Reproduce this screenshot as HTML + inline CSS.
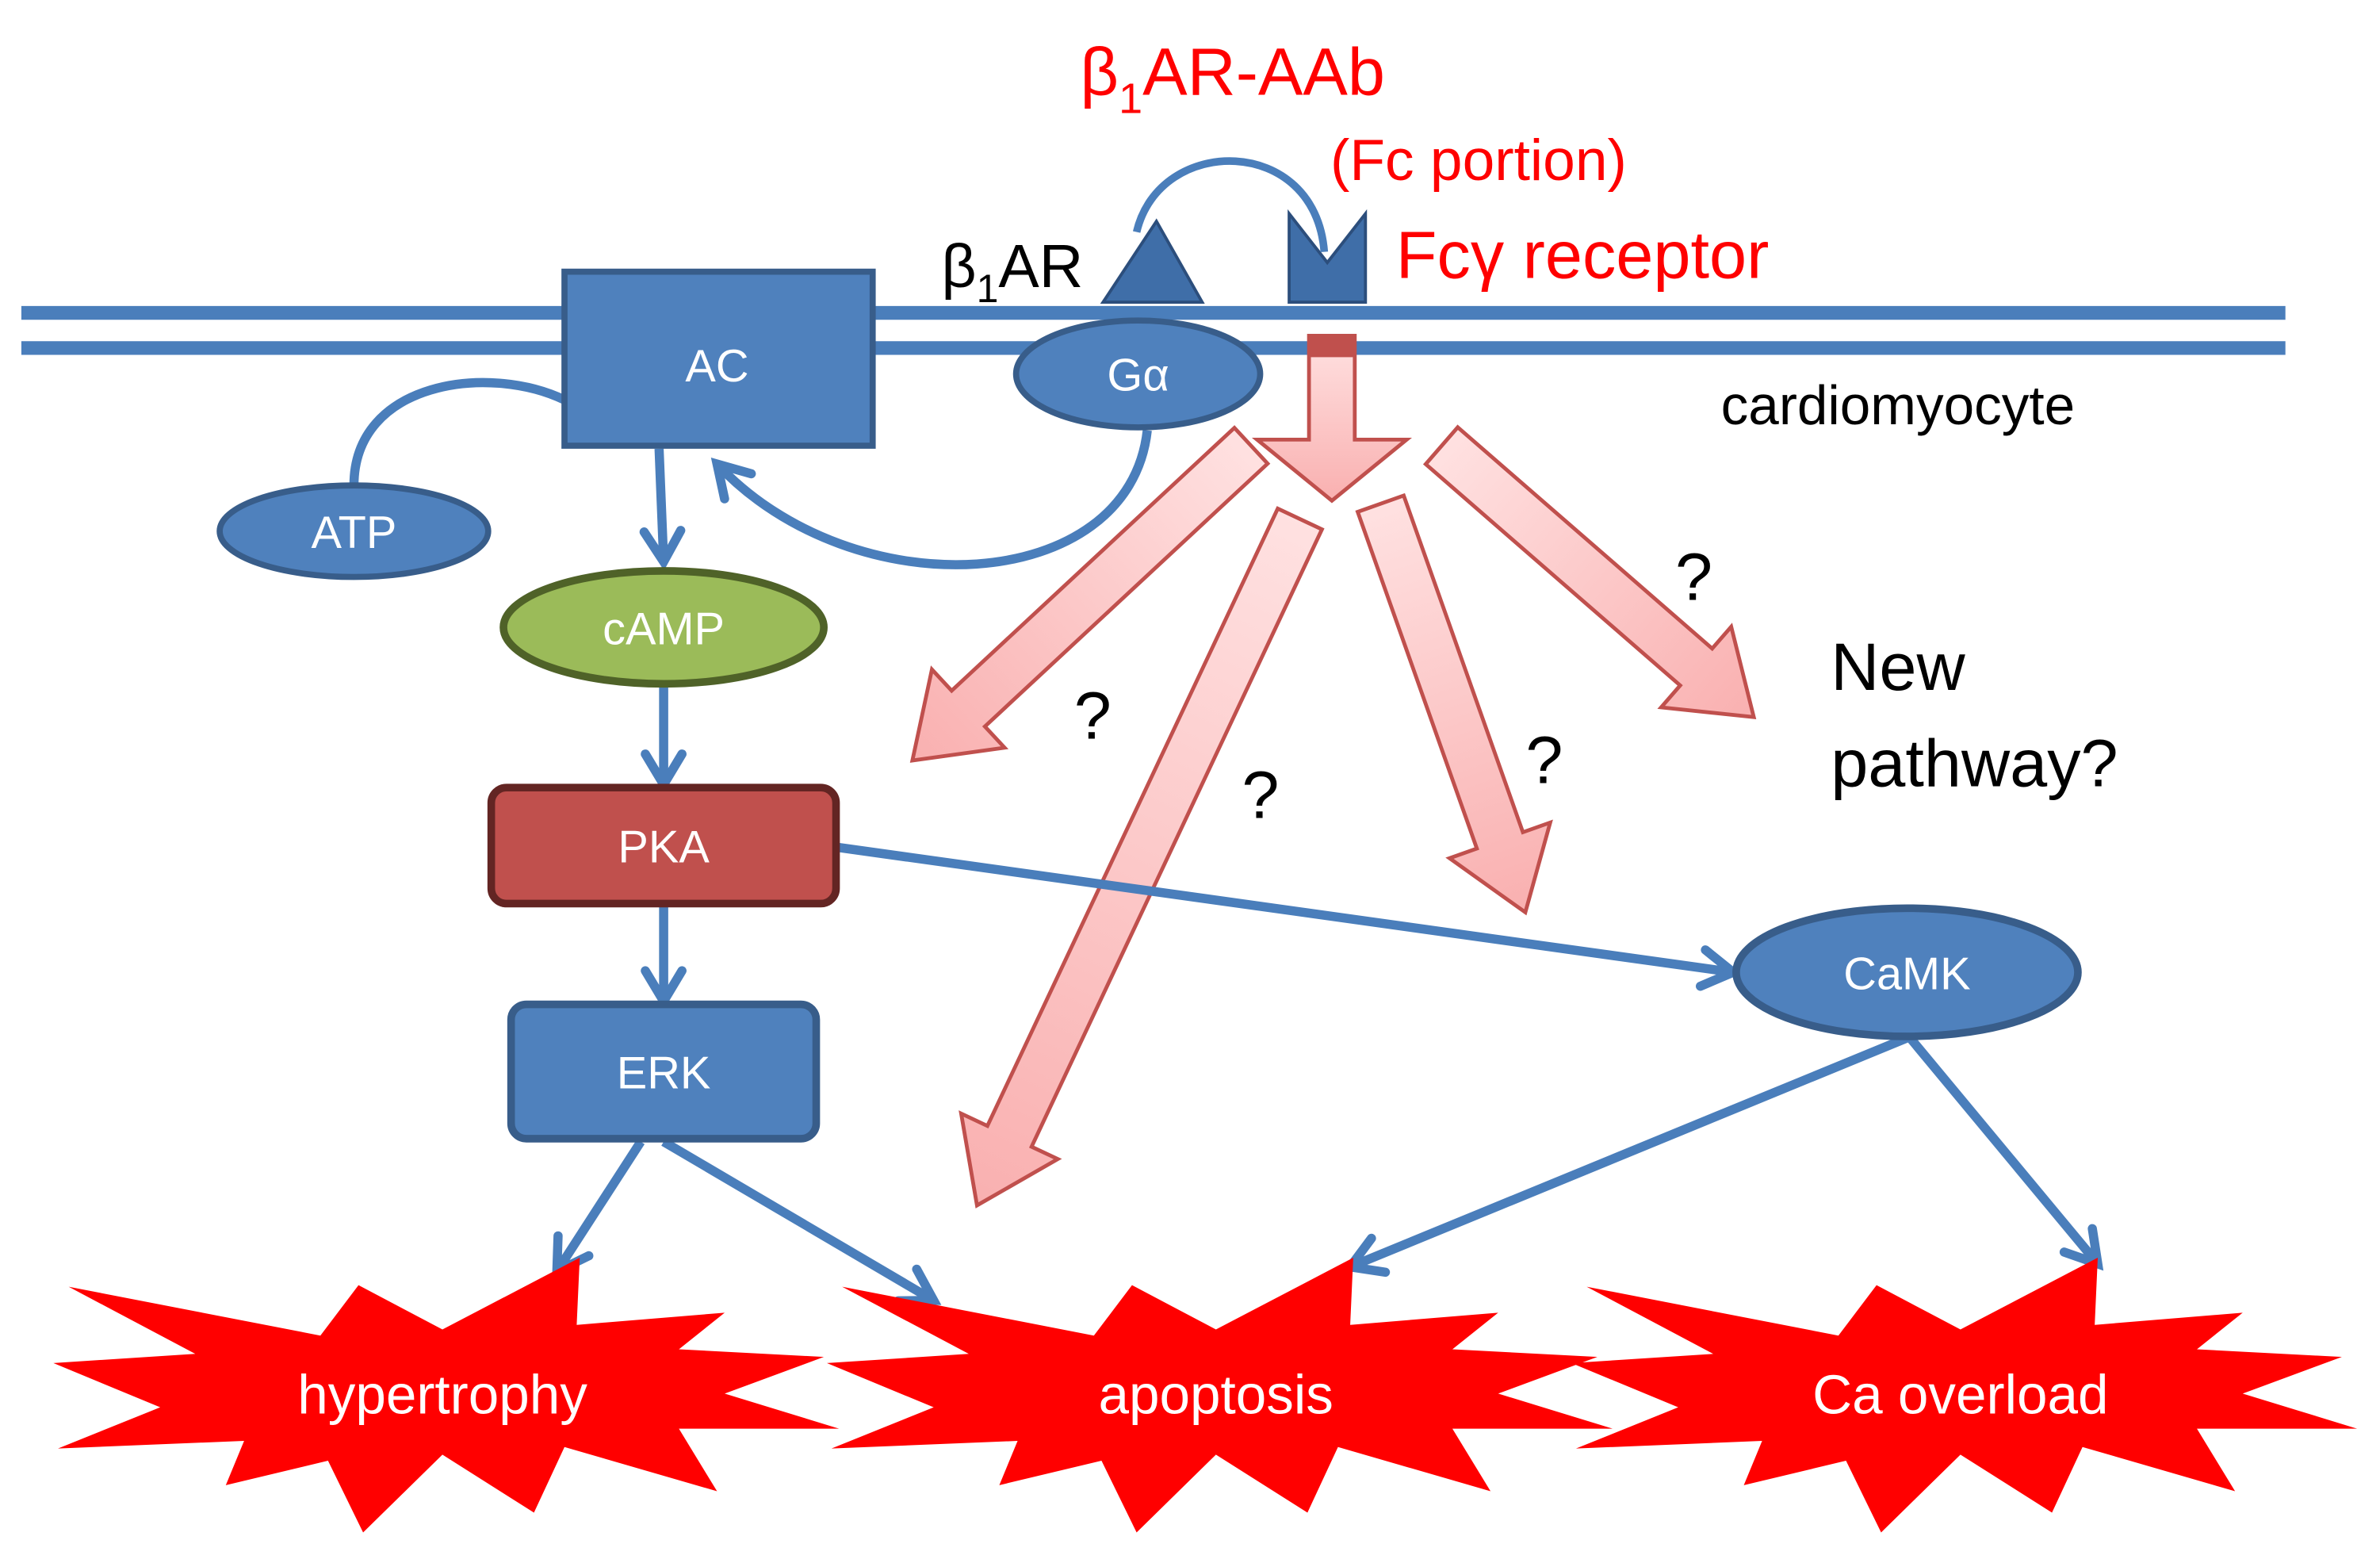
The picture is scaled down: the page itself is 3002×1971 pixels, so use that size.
<!DOCTYPE html>
<html><head><meta charset="utf-8"><style>
html,body{margin:0;padding:0;background:#fff;}
svg{display:block;}
text{font-family:"Liberation Sans","DejaVu Sans",sans-serif;}
</style></head><body>
<svg width="3002" height="1971" viewBox="0 0 1560 1024" preserveAspectRatio="none" xmlns="http://www.w3.org/2000/svg">
<defs>
<marker id="ah" viewBox="-4 -4 32 32" refX="22" refY="12" markerWidth="32" markerHeight="32" orient="auto" markerUnits="userSpaceOnUse" overflow="visible">
<path d="M2,0 L22,12 L2,24" fill="none" stroke="#4a7ebb" stroke-width="6" stroke-linecap="round" stroke-linejoin="miter"/>
</marker>
<linearGradient id="pg" x1="0" y1="0" x2="1" y2="0"><stop offset="0" stop-color="#ffe1e1"/><stop offset="1" stop-color="#f9b0b0"/></linearGradient>
</defs>

<line x1="14" y1="205" x2="1498" y2="205" stroke="#4a7ebb" stroke-width="9"/>
<line x1="14" y1="228" x2="1498" y2="228" stroke="#4a7ebb" stroke-width="9"/>

<polygon points="723,198 758,145 788,198" fill="#3f6ea8" stroke="#2c4e7c" stroke-width="2"/>
<polygon points="845,198 845,140 870,172 895,140 895,198" fill="#3f6ea8" stroke="#2c4e7c" stroke-width="2"/>
<path d="M745,152 C760,88 862,88 868,165" fill="none" stroke="#4a7ebb" stroke-width="5"/>

<text x="617" y="188" font-size="40" fill="#000">β<tspan font-size="26" dy="10">1</tspan><tspan dy="-10">AR</tspan></text>
<text x="708" y="62" font-size="44" fill="#ff0000">β<tspan font-size="28" dy="12">1</tspan><tspan dy="-12">AR-AAb</tspan></text>
<text x="872" y="118" font-size="38" fill="#ff0000">(Fc portion)</text>
<text x="915" y="182" font-size="44" fill="#ff0000">Fcγ receptor</text>
<text x="1128" y="278" font-size="36" fill="#000">cardiomyocyte</text>

<g fill="url(#pg)" stroke="#c0504d" stroke-width="2.5">
<g transform="translate(873,220) rotate(90)"><polygon points="0,-15 68,-15 68,-49 108,0 68,49 68,15 0,15"/></g>
<g transform="translate(820,292) rotate(137.1)"><polygon points="0,-16 253,-16 253,-35 303,0 253,35 253,16 0,16"/></g>
<g transform="translate(852,340) rotate(115.2)"><polygon points="0,-16 447,-16 447,-35 497,0 447,35 447,16 0,16"/></g>
<g transform="translate(905,330) rotate(70.5)"><polygon points="0,-16 234,-16 234,-35 284,0 234,35 234,16 0,16"/></g>
<g transform="translate(945,292) rotate(41)"><polygon points="0,-16 221,-16 221,-35 271,0 221,35 221,16 0,16"/></g>
</g>
<rect x="858" y="220" width="30" height="14" fill="#c0504d"/>

<g font-size="44" fill="#000">
<text x="704" y="484">?</text>
<text x="814" y="536">?</text>
<text x="1000" y="513">?</text>
<text x="1098" y="393">?</text>
<text x="1200" y="452">New</text>
<text x="1200" y="515">pathway?</text>
</g>

<g fill="none" stroke="#4a7ebb" stroke-width="6">
<path d="M232,318 C232,250 320,238 370,262"/>
<path d="M752,282 C740,390 560,400 470,304" marker-end="url(#ah)"/>
<line x1="432" y1="294" x2="435" y2="368" marker-end="url(#ah)"/>
<line x1="435" y1="450" x2="435" y2="514" marker-end="url(#ah)"/>
<line x1="435" y1="594" x2="435" y2="656" marker-end="url(#ah)"/>
<line x1="548" y1="555" x2="1136" y2="637" marker-end="url(#ah)"/>
<line x1="420" y1="748" x2="365" y2="833" marker-end="url(#ah)"/>
<line x1="435" y1="748" x2="612" y2="852" marker-end="url(#ah)"/>
<line x1="1250" y1="680" x2="885" y2="830" marker-end="url(#ah)"/>
<line x1="1252" y1="680" x2="1375" y2="828" marker-end="url(#ah)"/>
</g>

<rect x="370" y="178" width="202" height="114" fill="#4f81bd" stroke="#385d8a" stroke-width="4"/>
<text x="470" y="250" font-size="30" fill="#fff" text-anchor="middle">AC</text>
<ellipse cx="746" cy="245" rx="80" ry="35" fill="#4f81bd" stroke="#385d8a" stroke-width="4"/>
<text x="746" y="256" font-size="30" fill="#fff" text-anchor="middle">Gα</text>
<ellipse cx="232" cy="348" rx="88" ry="30" fill="#4f81bd" stroke="#385d8a" stroke-width="4"/>
<text x="232" y="359" font-size="30" fill="#fff" text-anchor="middle">ATP</text>
<ellipse cx="435" cy="411" rx="105" ry="37" fill="#9bbb59" stroke="#4f6228" stroke-width="5"/>
<text x="435" y="422" font-size="30" fill="#fff" text-anchor="middle">cAMP</text>
<rect x="322" y="516" width="226" height="76" rx="10" fill="#c0504d" stroke="#632523" stroke-width="5"/>
<text x="435" y="565" font-size="30" fill="#fff" text-anchor="middle">PKA</text>
<rect x="335" y="658" width="200" height="88" rx="10" fill="#4f81bd" stroke="#385d8a" stroke-width="5"/>
<text x="435" y="713" font-size="30" fill="#fff" text-anchor="middle">ERK</text>
<ellipse cx="1250" cy="637" rx="112" ry="42" fill="#4f81bd" stroke="#385d8a" stroke-width="5"/>
<text x="1250" y="648" font-size="30" fill="#fff" text-anchor="middle">CaMK</text>

<defs>
<polygon id="star" points="45,843 210,875 235,842 290,871 380,824 378,868 475,860 445,884 540,889 475,913 550,936 445,936 470,977 370,948 350,991 290,953 238,1004 215,957 148,973 160,944 38,949 105,922 35,893 128,887"/>
</defs>
<use href="#star" fill="#ff0000"/>
<use href="#star" fill="#ff0000" transform="translate(507,0)"/>
<use href="#star" fill="#ff0000" transform="translate(995,0)"/>
<g font-size="36" fill="#fff" text-anchor="middle">
<text x="290" y="926">hypertrophy</text>
<text x="797" y="926">apoptosis</text>
<text x="1285" y="926">Ca overload</text>
</g>
</svg>
</body></html>
